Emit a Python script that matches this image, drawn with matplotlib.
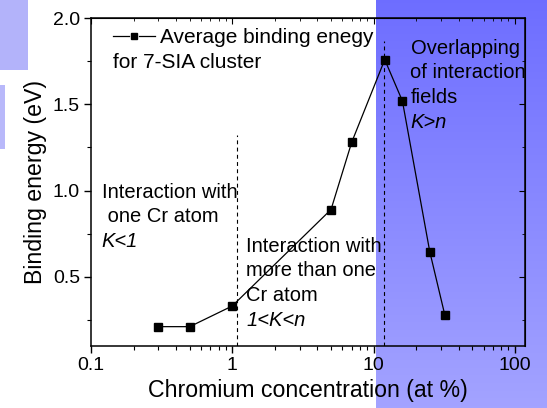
import numpy as np
import matplotlib
matplotlib.use("Agg")
import matplotlib.pyplot as plt
from matplotlib.patches import Rectangle
from matplotlib.ticker import MultipleLocator, FixedLocator, FixedFormatter, LogLocator, NullFormatter

# Average binding energy of a 7-SIA cluster vs. chromium content
cr_conc = [0.3, 0.5, 1.0, 5.0, 7.0, 12.0, 16.0, 25.0, 32.0]
binding_energy = [0.21, 0.21, 0.33, 0.89, 1.28, 1.76, 1.52, 0.645, 0.275]

x_ticks = [0.1, 1, 10, 100]
x_tick_labels = ["0.1", "1", "10", "100"]
y_ticks = [0.5, 1.0, 1.5, 2.0]
y_tick_labels = ["0.5", "1.0", "1.5", "2.0"]

# regime boundaries (dashed lines): x position and height
boundary_x = [1.08, 11.8]
boundary_top = [1.32, 1.87]

plt.rcParams['font.family'] = ['Liberation Sans', 'DejaVu Sans']

W, H = 547, 408
fig = plt.figure(figsize=(W / 100, H / 100), dpi=100)
fig.patch.set_facecolor('white')

# background layer in pixel coordinates
bg = fig.add_axes([0, 0, 1, 1], zorder=0)
bg.axis('off')
grad = np.linspace(0, 1, 256)[:, None, None]
c_top = np.array([0.43, 0.43, 1.0])
c_bot = np.array([0.64, 0.64, 1.0])
img = c_top + (c_bot - c_top) * grad
bg.imshow(img, extent=[376, W, H, 0], aspect='auto', interpolation='bilinear')
bg.add_patch(Rectangle((0, 0), 28, 70, facecolor=(0.70, 0.70, 0.98), edgecolor='none'))
bg.add_patch(Rectangle((0, 85), 5, 64, facecolor=(0.72, 0.72, 0.98), edgecolor='none'))
bg.set_xlim(0, W)
bg.set_ylim(H, 0)

# main plot
L, R, T, B = 91, 525, 18.3, 345.6
ax = fig.add_axes([L / W, (H - B) / H, (R - L) / W, (B - T) / H], zorder=1)
ax.set_facecolor('none')
ax.set_xscale('log')
ax.set_xlim(0.1, 118)
ax.set_ylim(0.1, 2.0)

ax.plot(cr_conc, binding_energy, '-s', color='black', lw=0.9, ms=5.2,
        mfc='black', mec='black')
ax.vlines(boundary_x, 0.1, boundary_top, colors='black', lw=0.8,
          linestyles=(0, (3.5, 3)))

for s in ax.spines.values():
    s.set_linewidth(1.1)

ax.xaxis.set_major_locator(FixedLocator(x_ticks))
ax.xaxis.set_major_formatter(FixedFormatter(x_tick_labels))
ax.xaxis.set_minor_locator(LogLocator(base=10, subs=np.arange(2, 10)))
ax.xaxis.set_minor_formatter(NullFormatter())
ax.yaxis.set_major_locator(FixedLocator(y_ticks))
ax.yaxis.set_major_formatter(FixedFormatter(y_tick_labels))
ax.yaxis.set_minor_locator(MultipleLocator(0.25))

ax.tick_params(which='major', direction='out', length=5, width=1.0,
               labelsize=14, pad=3)
ax.tick_params(which='minor', direction='out', length=3, width=0.8)

# inward ticks on the top and right frame
top = ax.secondary_xaxis('top')
top.xaxis.set_major_locator(FixedLocator(x_ticks))
top.xaxis.set_minor_locator(LogLocator(base=10, subs=np.arange(2, 10)))
top.tick_params(which='major', direction='in', length=4, labeltop=False)
top.tick_params(which='minor', direction='in', length=2.5, labeltop=False)
top.xaxis.set_minor_formatter(NullFormatter())
top.xaxis.set_major_formatter(NullFormatter())
right = ax.secondary_yaxis('right')
right.yaxis.set_major_locator(FixedLocator(y_ticks))
right.yaxis.set_minor_locator(MultipleLocator(0.25))
right.tick_params(which='major', direction='in', length=4, labelright=False)
right.tick_params(which='minor', direction='in', length=2.5, labelright=False)
right.yaxis.set_major_formatter(NullFormatter())

ax.set_xlabel('Chromium concentration (at %)', fontsize=16.7)
ax.set_ylabel('Binding energy (eV)', fontsize=16.7)
ax.xaxis.set_label_coords(0.5, -0.102)
ax.yaxis.set_label_coords(-0.102, 0.5)


def fx(px):
    return (px - L) / (R - L)


def fy(py):
    return (B - py) / (B - T)


# legend entry: line segments with a marker in the middle
ax.plot([fx(113), fx(129)], [fy(36), fy(36)], color='black', lw=0.9,
        transform=ax.transAxes)
ax.plot([fx(139), fx(155)], [fy(36), fy(36)], color='black', lw=0.9,
        transform=ax.transAxes)
ax.plot([fx(134)], [fy(36)], 's', color='black', ms=4.2, transform=ax.transAxes)
ax.text(fx(160), fy(43), 'Average binding enegy', fontsize=15,
        transform=ax.transAxes, va='baseline', ha='left')
ax.text(fx(113), fy(68), 'for 7-SIA cluster', fontsize=15,
        transform=ax.transAxes, va='baseline', ha='left')


def block(x_px, baselines, lines):
    for yb, (txt, it) in zip(baselines, lines):
        ax.text(fx(x_px), fy(yb), txt, fontsize=14.5, transform=ax.transAxes,
                va='baseline', ha='left', style='italic' if it else 'normal')


block(101.5, [198, 222.5, 247],
      [('Interaction with', False), (' one Cr atom', False), ('K<1', True)])
block(246.5, [252, 276.5, 301, 325.5],
      [('Interaction with', False), ('more than one', False),
       ('Cr atom', False), ('1<K<n', True)])
block(410.5, [54, 78.5, 103, 127.5],
      [('Overlapping', False), ('of interaction', False),
       ('fields', False), ('K>n', True)])

fig.savefig('out.png', dpi=100)
